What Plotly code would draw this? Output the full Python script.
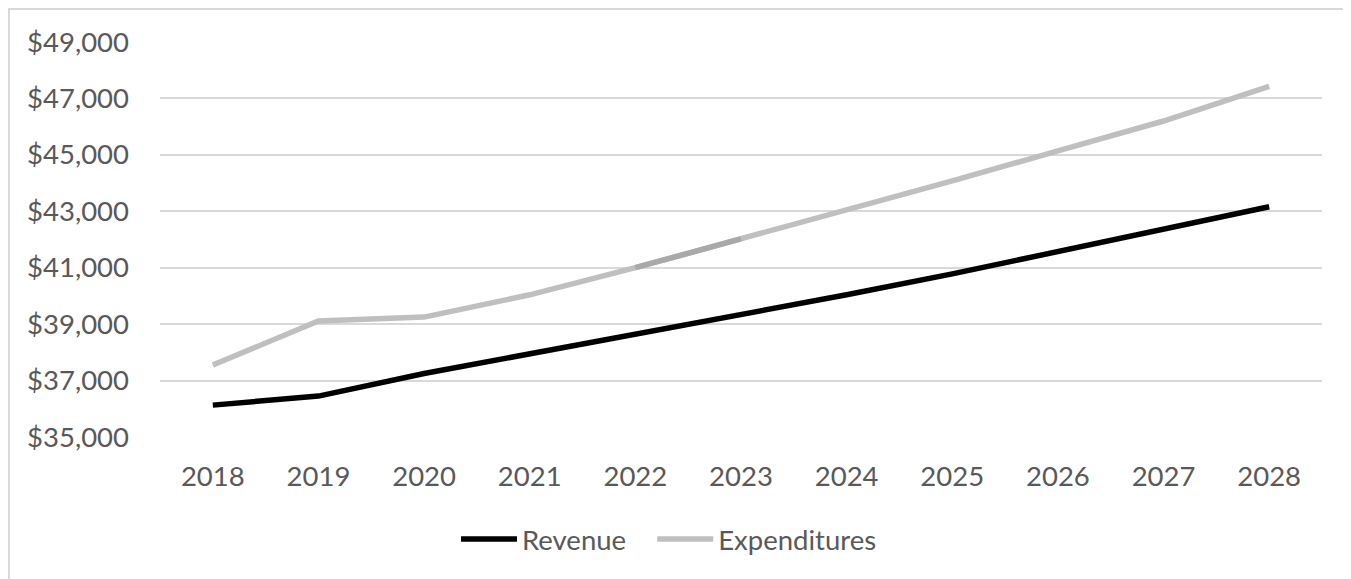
import plotly.graph_objects as go

years = ["2018", "2019", "2020", "2021", "2022", "2023", "2024", "2025", "2026", "2027", "2028"]
revenue = [36130, 36450, 37250, 37940, 38620, 39330, 40040, 40780, 41560, 42340, 43160]
expenditures = [37550, 39110, 39250, 40040, 41000, 42020, 43050, 44080, 45140, 46200, 47430]
y_ticks = [35000, 37000, 39000, 41000, 43000, 45000, 47000, 49000]

FONT = "Lato"
TXT = "#595959"
FS = 27.5

W, H = 1343, 571
L, R, T, B = 152, 29, 34, 142
pw = W - L - R
ph = H - T - B

fig = go.Figure()
fig.add_trace(go.Scatter(x=years, y=revenue, mode="lines", name="Revenue\u00a0\u00a0\u00a0",
                         line=dict(color="#000000", width=5.5)))
fig.add_trace(go.Scatter(x=years, y=expenditures, mode="lines", name="Expenditures",
                         line=dict(color="#BFBFBF", width=5.5)))
# slightly darker segment seen in the reference between 2022 and 2023
fig.add_trace(go.Scatter(x=years[4:6], y=expenditures[4:6], mode="lines", showlegend=False,
                         line=dict(color="#A9A9A9", width=5.5), hoverinfo="skip"))

fig.update_layout(
    width=W, height=H,
    paper_bgcolor="white", plot_bgcolor="white",
    margin=dict(l=L, r=R, t=T, b=B),
    font=dict(family=FONT, size=FS, color=TXT),
    showlegend=True,
    legend=dict(orientation="h", x=(456 - 8 - L) / pw, xanchor="left",
                y=-(539 - 437) / ph, yanchor="middle",
                font=dict(family=FONT, size=FS, color=TXT), traceorder="normal",
                itemwidth=56, bgcolor="rgba(0,0,0,0)"),
    xaxis=dict(type="category", range=[-0.5, 10.5], showgrid=False, zeroline=False,
               showline=False, ticks="", ticklabelstandoff=20,
               tickfont=dict(family=FONT, size=FS, color=TXT)),
    yaxis=dict(range=[35000, 49000], tickvals=y_ticks, tickformat="$,.0f",
               showgrid=True, gridcolor="#D9D9D9", gridwidth=1.5, zeroline=False,
               showline=False, ticks="", ticklabelstandoff=30,
               tickfont=dict(family=FONT, size=FS, color=TXT)),
    shapes=[dict(type="rect", xref="paper", yref="paper",
                 x0=-(L - 1) / pw, x1=(W + 20 - L) / pw,
                 y0=-(B + 20) / ph, y1=1 + (T - 1) / ph,
                 line=dict(color="#D9D9D9", width=2), layer="below")],
)

fig.write_html("out.html")
